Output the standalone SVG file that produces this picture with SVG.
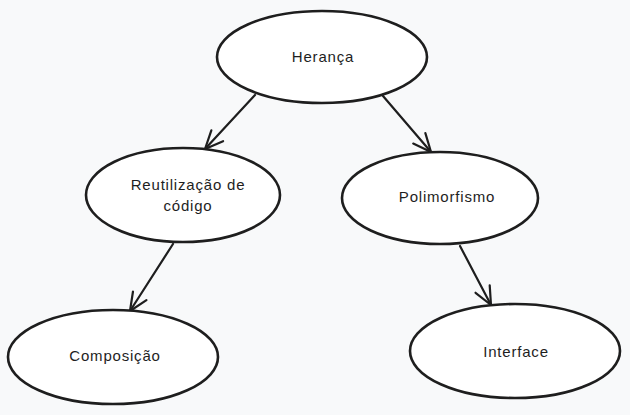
<svg xmlns="http://www.w3.org/2000/svg" width="630" height="415" viewBox="0 0 630 415">
<defs>
<style>
.bg{fill:#f8f9fa}
.node ellipse{fill:#ffffff;stroke:#1e1e1e;stroke-width:2.6}
.node text{font-family:"Liberation Sans",Arial,sans-serif;font-size:15px;letter-spacing:0.8px;fill:#1e1e1e;text-anchor:middle;dominant-baseline:middle}
.edge{stroke:#1e1e1e;stroke-width:2.2;fill:none;stroke-linecap:round}
</style>
<marker id="arr" viewBox="0 0 22 22" refX="20" refY="11" markerWidth="22" markerHeight="22" markerUnits="userSpaceOnUse" orient="auto">
<path d="M2,3 L20,11 L2,19" fill="none" stroke="#1e1e1e" stroke-width="2.2" stroke-linecap="round" stroke-linejoin="round"/>
</marker>
</defs>
<rect class="bg" x="0" y="0" width="630" height="415"/>
<g id="connectors">
<line class="edge" x1="255" y1="95" x2="205" y2="149" marker-end="url(#arr)"/>
<line class="edge" x1="383" y1="96" x2="431" y2="152" marker-end="url(#arr)"/>
<line class="edge" x1="173" y1="244" x2="130" y2="311" marker-end="url(#arr)"/>
<line class="edge" x1="460" y1="246" x2="491" y2="305" marker-end="url(#arr)"/>
</g>
<g id="heranca" class="node">
<ellipse cx="322" cy="57" rx="105" ry="46"/>
<text x="323" y="58">Herança</text>
</g>
<g id="reutilizacao" class="node">
<ellipse cx="183" cy="195" rx="97" ry="47"/>
<text x="188" y="186">Reutilização de</text>
<text x="188" y="207">código</text>
</g>
<g id="polimorfismo" class="node">
<ellipse cx="440" cy="198" rx="98" ry="46"/>
<text x="447" y="198">Polimorfismo</text>
</g>
<g id="composicao" class="node">
<ellipse cx="113" cy="357" rx="105" ry="47"/>
<text x="115" y="357">Composição</text>
</g>
<g id="interface" class="node">
<ellipse cx="515" cy="351" rx="105" ry="47"/>
<text x="516" y="353">Interface</text>
</g>
</svg>
